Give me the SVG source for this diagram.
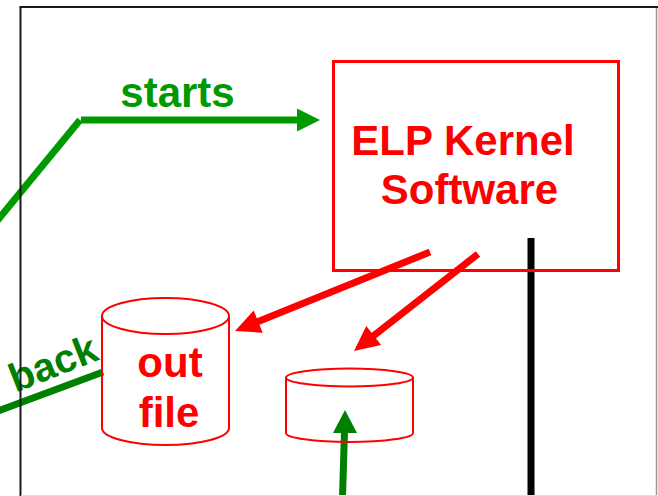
<svg xmlns="http://www.w3.org/2000/svg" width="658" height="496" viewBox="0 0 658 496">
  <style>
    .lbl { font-family: "Liberation Sans", Arial, sans-serif; font-weight: bold; font-size: 42px; }
    .red { fill: #ff0000; }
    .grn { fill: #009900; }
    .dgrn { fill: #008000; }
    .db { fill: none; stroke: #ff0000; stroke-width: 2; }
  </style>
  <rect width="658" height="496" fill="#ffffff"/>

  <g id="connectors">
    <!-- starts -->
    <line x1="-4" y1="222" x2="80" y2="120" stroke="#009900" stroke-width="7"/>
    <line x1="81" y1="120" x2="299" y2="120" stroke="#009900" stroke-width="7"/>
    <polygon points="297,108.5 320,120 297,131.5" fill="#009900"/>
    <!-- back -->
    <line x1="-2" y1="411" x2="103" y2="372" stroke="#008000" stroke-width="7"/>
    <!-- red arrows -->
    <line x1="430" y1="252" x2="257" y2="322" stroke="#ff0000" stroke-width="7"/>
    <polygon points="253.7,310.5 235,331 262.7,332.7" fill="#ff0000"/>
    <line x1="478" y1="254" x2="372" y2="337" stroke="#ff0000" stroke-width="7"/>
    <polygon points="366.3,326.1 354,351 381.1,345.1" fill="#ff0000"/>
    <!-- green up arrow -->
    <line x1="342.5" y1="497" x2="344.5" y2="431" stroke="#008000" stroke-width="7"/>
    <polygon points="333,433 345,410 357,433" fill="#008000"/>
    <!-- black line -->
    <line x1="531" y1="238" x2="531" y2="496" stroke="#000000" stroke-width="7"/>
  </g>

  <g id="labels">
    <text class="lbl grn" x="177.5" y="107" text-anchor="middle">starts</text>
    <text class="lbl dgrn" x="58" y="376" text-anchor="middle" style="font-size:40px" transform="rotate(-21.5 58 376)">back</text>
  </g>

  <g id="kernel">
    <rect x="333.5" y="61.5" width="285" height="209" fill="none" stroke="#ff0000" stroke-width="3"/>
    <text class="lbl red" x="463" y="155" text-anchor="middle">ELP Kernel</text>
    <text class="lbl red" x="469.5" y="204" text-anchor="middle">Software</text>
  </g>

  <g id="outfile">
    <ellipse class="db" cx="165.5" cy="316" rx="63.5" ry="18"/>
    <path class="db" d="M102,316 V428 A63.5,17 0 0,0 229,428 V316"/>
    <text class="lbl red" x="170" y="377" text-anchor="middle">out</text>
    <text class="lbl red" x="169" y="427" text-anchor="middle">file</text>
  </g>

  <g id="store">
    <ellipse class="db" cx="349.5" cy="377.5" rx="63.5" ry="9"/>
    <path class="db" d="M286,377.5 V433 A63.5,9 0 0,0 413,433 V377.5"/>
  </g>

  <g id="frame">
    <line x1="20.5" y1="7" x2="20.5" y2="496" stroke="#1a1a1a" stroke-width="2"/>
    <line x1="19.5" y1="7" x2="658" y2="7" stroke="#1a1a1a" stroke-width="2"/>
    <line x1="656.5" y1="8" x2="656.5" y2="496" stroke="#999999" stroke-width="1.5"/>
    <line x1="21" y1="495.5" x2="657" y2="495.5" stroke="#e0e0e0" stroke-width="1"/>
  </g>
</svg>
